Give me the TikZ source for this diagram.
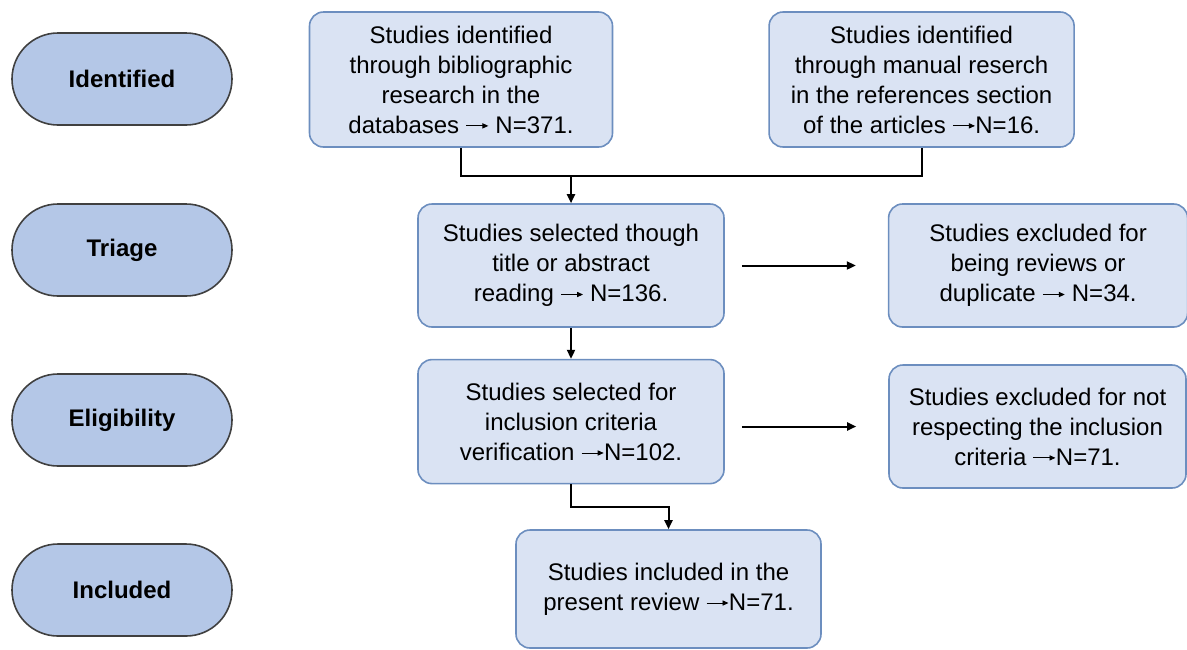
\documentclass[tikz,border=0pt]{standalone}
\usepackage{fontspec}
\setmainfont{Liberation Sans}
\usetikzlibrary{positioning}
\usetikzlibrary{arrows.meta}
\definecolor{stagefill}{HTML}{B4C7E7}
\definecolor{boxfill}{HTML}{DAE3F3}
\definecolor{boxline}{HTML}{6C8EBF}
\tikzset{stage node/.style={rectangle,rounded corners=23pt,fill=stagefill,draw=black!75,line width=0.8pt,minimum width=110pt,minimum height=46pt,inner sep=0pt,font=\fontsize{12}{15}\selectfont\bfseries},
         main node/.style={rectangle,rounded corners=7pt,fill=boxfill,draw=boxline,line width=0.8pt,align=center,inner sep=0pt,font=\fontsize{12}{15}\selectfont},
         flow/.style={draw,line width=1pt,-{Triangle[length=4.5pt,width=4pt]}},
            }
\newcommand\Narr{\tikz[baseline=-3.6pt]\draw[line width=0.45pt,-{Triangle[length=3pt,width=2.6pt]}] (0pt,0pt) -- (11pt,0pt);}

\begin{document}
\begin{tikzpicture}[x=0.5pt,y=-0.5pt]
\useasboundingbox (0,0) rectangle (1187,649);
 \node[stage node] (ide) at (122,79) {Identified};
 \node[stage node] (tri) at (122,250) {Triage};
 \node[stage node] (eli) at (122,420) {Eligibility};
 \node[stage node] (inc) at (122,590) {Included};

 \node[main node,minimum width=151.5pt,minimum height=67.5pt] (bib) at (461,79.5) {Studies identified\\through bibliographic\\research in the\\databases \Narr{} N=371.};
    \node[main node,minimum width=152.5pt,minimum height=67.5pt] (man)[right=77.5pt of bib] {Studies identified\\through manual reserch\\in the references section\\of the articles \Narr{}N=16.};
 \node[main node,minimum width=153pt,minimum height=61.5pt] (sel) at (571,265.5) {Studies selected though\\title or abstract\\reading \Narr{} N=136.};
    \node[main node,minimum width=149.5pt,minimum height=61.5pt] (rev)[right=81.5pt of sel] {Studies excluded for\\being reviews or\\duplicate \Narr{} N=34.};
 \node[main node,minimum width=153pt,minimum height=62pt] (ver)[below=15.5pt of sel] {Studies selected for\\inclusion criteria\\verification \Narr{}N=102.};
    \node[main node,minimum width=148.5pt,minimum height=61.5pt] (cri) at (1037.5,426.5) {Studies excluded for not\\respecting the inclusion\\criteria \Narr{}N=71.};
 \node[main node,minimum width=152.5pt,minimum height=59pt] (fin) at (668.5,589) {Studies included in the\\present review \Narr{}N=71.};

 \coordinate (join) at (sel.north |- 0,176);
    \draw[line width=1pt] (bib.south) |- (join) -| (man.south);
    \path[flow]
        (join) -- (sel.north);
    \path[flow]
        (sel.south) -- (ver.north);
    \path[flow,shorten <=8.5pt,shorten >=16pt]
        (sel.east) -- (rev.west);
    \path[flow,shorten <=8.5pt,shorten >=16pt]
        (cri.west -| ver.east) -- (cri.west);
    \path[flow]
        (ver.south) -- ++(0,23) -| (fin.north);

\end{tikzpicture}
\end{document}
